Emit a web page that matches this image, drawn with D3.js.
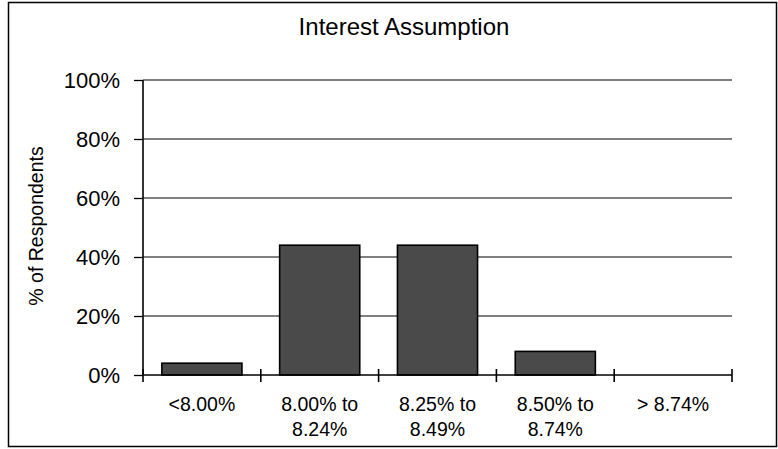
<!DOCTYPE html>
<html><head><meta charset="utf-8">
<script src="https://cdn.jsdelivr.net/npm/d3@7"></script>
<style>body{margin:0;background:#fff}svg{display:block}text{font-family:"Liberation Sans",Arial,sans-serif;fill:#000}</style>
</head><body><svg id="c" width="778" height="449"></svg>
<script>
const categories = [["<8.00%"],["8.00% to","8.24%"],["8.25% to","8.49%"],["8.50% to","8.74%"],["> 8.74%"]];
const values = [4, 44, 44, 8, 0];
const yTicks = [0, 20, 40, 60, 80, 100];
const title = "Interest Assumption";
const yLabel = "% of Respondents";

const svg = d3.select("#c");
const m = {l:143, r:46, t:80, b:74};
const W = 778, H = 449;
const x = d3.scaleBand().domain(d3.range(categories.length)).range([m.l, W - m.r]).paddingInner(0.32).paddingOuter(0.16);
const xEdges = d3.scaleLinear().domain([0, categories.length]).range([m.l, W - m.r]);
const y = d3.scaleLinear().domain([0, 100]).range([H - m.b, m.t]);

// frame
svg.append("rect").attr("x", 8.5).attr("y", 2.5).attr("width", 768).attr("height", 444).attr("fill", "none").attr("stroke", "#000").attr("stroke-width", 1.5);

// gridlines
svg.append("g").selectAll("line").data(yTicks.filter(d => d > 0)).join("line")
  .attr("x1", m.l).attr("x2", W - m.r).attr("y1", d => y(d)).attr("y2", d => y(d))
  .attr("stroke", "#000").attr("stroke-width", 1.2);

// y axis
const ya = svg.append("g").attr("transform", `translate(${m.l},0)`)
  .call(d3.axisLeft(y).tickValues(yTicks).tickFormat(d => d + "%").tickSize(9).tickPadding(14));
ya.select(".domain").attr("stroke-width", 1.6).attr("d", `M-0,${y(100)}V${y(0)}`);
ya.selectAll(".tick line").attr("stroke-width", 1.3);
ya.selectAll(".tick text").attr("font-size", 22).attr("dy", "0.36em");

// bars
svg.append("g").selectAll("rect").data(values).join("rect")
  .attr("x", (d, i) => x(i)).attr("width", x.bandwidth())
  .attr("y", d => y(d)).attr("height", d => y(0) - y(d))
  .attr("fill", "#4a4a4a").attr("stroke", "#000").attr("stroke-width", 1.6);

// x axis
const xa = svg.append("g").attr("transform", `translate(0,${y(0)})`);
xa.append("line").attr("x1", m.l).attr("x2", W - m.r).attr("stroke", "#000").attr("stroke-width", 1.6);
xa.selectAll("line.t").data(d3.range(categories.length + 1)).join("line").attr("class", "t")
  .attr("x1", d => xEdges(d)).attr("x2", d => xEdges(d)).attr("y1", -6).attr("y2", 7)
  .attr("stroke", "#000").attr("stroke-width", 1.6);
const lbl = svg.append("g").selectAll("text").data(categories).join("text")
  .attr("text-anchor", "middle").attr("font-size", 19.5)
  .attr("x", (d, i) => x(i) + x.bandwidth() / 2).attr("y", 411);
lbl.selectAll("tspan").data(d => d).join("tspan")
  .attr("x", function(){ return this.parentNode.getAttribute("x"); })
  .attr("dy", (d, i) => i ? 25 : 0).text(d => d);

// title
svg.append("text").attr("x", 404).attr("y", 35).attr("text-anchor", "middle").attr("font-size", 24).text(title);
// y label
svg.append("text").attr("transform", `translate(43,226) rotate(-90)`).attr("text-anchor", "middle")
  .attr("font-size", 19.5).text(yLabel);
</script></body></html>
